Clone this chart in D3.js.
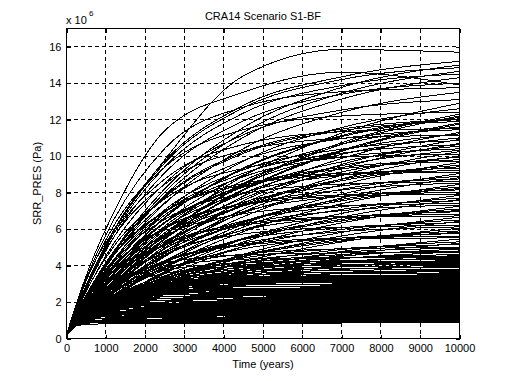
<!DOCTYPE html>
<html><head><meta charset="utf-8">
<script src="https://cdn.jsdelivr.net/npm/d3@7"></script>
<style>
html,body{margin:0;padding:0;background:#fff;}
text{font-family:"Liberation Sans",Arial,sans-serif;fill:#000;}
</style></head>
<body><svg id="c" width="508" height="381"></svg>
<script>
const title = "CRA14 Scenario S1-BF";
const xLabel = "Time (years)";
const yLabel = "SRR_PRES (Pa)";
const xTicks = [0,1000,2000,3000,4000,5000,6000,7000,8000,9000,10000];
const yTicks = [0,2,4,6,8,10,12,14,16];
const times = [0,250,600,1200,2500,4500,7000,10000];

const lowBand = [
[0.2,0.70,0.78,0.81,0.83,0.84,0.85,0.86],
[0.2,0.74,0.85,0.88,0.89,0.9,0.9,0.9],
[0.2,0.78,0.9,0.93,0.94,0.95,0.95,0.95],
[0.2,0.82,0.94,0.97,0.98,0.99,1.0,1.0],
[0.2,0.86,0.99,1.02,1.03,1.04,1.05,1.05],
[0.2,0.70,0.95,1.04,1.07,1.08,1.09,1.1],
[0.2,0.93,1.08,1.11,1.13,1.14,1.15,1.15],
[0.2,0.75,1.03,1.14,1.17,1.18,1.19,1.2],
[0.2,0.98,1.16,1.2,1.22,1.24,1.25,1.25],
[0.2,0.80,1.1,1.22,1.26,1.28,1.29,1.3],
[0.2,0.83,1.16,1.28,1.31,1.33,1.34,1.35],
[0.2,0.85,1.18,1.32,1.36,1.38,1.39,1.4],
[0.2,0.88,1.24,1.37,1.41,1.43,1.44,1.45],
[0.2,0.9,1.26,1.42,1.46,1.48,1.49,1.5],
[0.2,0.94,1.32,1.47,1.51,1.53,1.54,1.55],
[0.2,0.75,1.18,1.47,1.56,1.58,1.59,1.6],
[0.2,0.99,1.39,1.56,1.61,1.63,1.64,1.65],
[0.2,0.79,1.25,1.56,1.66,1.68,1.69,1.7],
[0.2,1.05,1.48,1.65,1.7,1.73,1.74,1.75],
[0.2,0.83,1.32,1.65,1.75,1.78,1.79,1.8],
[0.2,0.85,1.35,1.7,1.81,1.83,1.84,1.85],
[0.2,0.87,1.39,1.75,1.85,1.88,1.89,1.9],
[0.2,0.89,1.42,1.79,1.9,1.93,1.94,1.95],
[0.2,0.91,1.46,1.84,1.94,1.97,1.99,2.0],
[0.2,0.93,1.49,1.88,2.0,2.03,2.04,2.05],
[0.2,0.71,1.2,1.68,2.0,2.07,2.09,2.1],
[0.2,0.97,1.56,1.97,2.1,2.13,2.14,2.15],
[0.2,0.74,1.26,1.75,2.1,2.17,2.19,2.2],
[0.2,1.01,1.63,2.06,2.2,2.23,2.24,2.25],
[0.2,0.76,1.31,1.83,2.19,2.27,2.29,2.3],
[0.2,1.05,1.7,2.15,2.29,2.33,2.34,2.35],
[0.2,0.79,1.36,1.91,2.29,2.37,2.39,2.4],
[0.2,1.08,1.77,2.25,2.39,2.43,2.44,2.45],
[0.2,0.82,1.41,1.99,2.39,2.47,2.49,2.5],
[0.2,0.83,1.44,2.03,2.45,2.54,2.55,2.55],
[0.2,0.84,1.47,2.06,2.49,2.57,2.59,2.6],
[0.2,0.86,1.5,2.1,2.54,2.63,2.65,2.65],
[0.2,0.87,1.52,2.14,2.59,2.67,2.69,2.7],
[0.2,0.88,1.55,2.18,2.64,2.74,2.75,2.75],
[0.2,0.72,1.22,1.84,2.48,2.74,2.79,2.8],
[0.2,0.91,1.6,2.26,2.74,2.84,2.85,2.85],
[0.2,0.73,1.26,1.91,2.56,2.84,2.89,2.9],
[0.2,0.94,1.65,2.34,2.83,2.94,2.95,2.95],
[0.2,0.73,1.3,1.97,2.65,2.93,2.99,3.0],
[0.2,0.96,1.7,2.41,2.93,3.04,3.05,3.05],
[0.2,0.75,1.34,2.03,2.74,3.03,3.09,3.1],
[0.2,0.75,1.36,2.06,2.78,3.08,3.14,3.15],
[0.2,0.76,1.38,2.1,2.83,3.13,3.19,3.2],
[0.2,0.77,1.4,2.12,2.87,3.18,3.24,3.25],
[0.2,0.78,1.42,2.16,2.91,3.23,3.29,3.3],
[0.2,0.79,1.44,2.19,2.96,3.27,3.34,3.35],
[0.2,0.8,1.46,2.22,3.0,3.32,3.39,3.4],
[0.2,0.81,1.48,2.25,3.04,3.37,3.44,3.45],
[0.2,0.72,1.14,1.81,2.69,3.24,3.45,3.5],
[0.2,0.83,1.52,2.32,3.13,3.47,3.54,3.55],
[0.2,0.73,1.17,1.86,2.76,3.33,3.55,3.6],
[0.2,0.85,1.56,2.38,3.22,3.57,3.64,3.65],
[0.2,0.74,1.19,1.91,2.84,3.43,3.64,3.7],
[0.2,0.74,1.1,1.66,2.52,3.23,3.59,3.75],
[0.2,0.75,1.22,1.96,2.91,3.52,3.74,3.8],
[0.2,0.76,1.25,2.01,2.99,3.61,3.84,3.9],
[0.2,0.75,1.13,1.73,2.65,3.4,3.79,3.95],
[0.2,0.77,1.28,2.06,3.07,3.7,3.94,4.0],
[0.2,0.92,1.71,2.63,3.57,3.96,4.04,4.05],
[0.2,0.78,1.31,2.11,3.14,3.8,4.04,4.1],
[0.2,0.76,1.17,1.8,2.77,3.57,3.98,4.15],
[0.2,0.79,1.34,2.16,3.22,3.89,4.14,4.2],
[0.2,0.96,1.79,2.76,3.74,4.15,4.24,4.25],
[0.2,0.75,0.99,1.46,2.42,3.35,3.96,4.3],
[0.2,0.8,1.38,2.23,3.33,4.03,4.28,4.35],
[0.2,0.78,1.21,1.89,2.92,3.78,4.22,4.4],
[0.2,1.0,1.87,2.89,3.92,4.35,4.44,4.45],
[0.2,0.81,1.42,2.3,3.44,4.16,4.43,4.5],
[0.2,0.76,1.03,1.54,2.55,3.54,4.19,4.55],
[0.2,0.79,1.25,1.96,3.05,3.95,4.41,4.6],
[0.2,1.05,1.97,3.04,4.14,4.59,4.69,4.7],
[0.2,0.77,1.06,1.6,2.66,3.69,4.37,4.75],
[0.2,0.8,1.29,2.03,3.18,4.12,4.6,4.8],
[0.2,0.78,1.09,1.65,2.74,3.81,4.51,4.9]
];

const midBand = [
[0.2,0.8,1.23,2.04,3.26,4.24,4.74,4.95],
[0.2,0.83,1.56,2.55,3.82,4.63,4.92,5.0],
[0.2,0.8,1.27,2.12,3.39,4.41,4.93,5.15],
[0.2,0.76,0.98,1.43,2.48,3.64,4.57,5.22],
[0.2,0.78,1.1,1.77,2.96,4.12,4.88,5.3],
[0.2,0.76,1.0,1.49,2.58,3.8,4.77,5.45],
[0.2,0.9,1.71,2.8,4.21,5.11,5.43,5.52],
[0.2,0.91,1.73,2.84,4.27,5.18,5.51,5.6],
[0.2,0.82,1.4,2.35,3.77,4.92,5.51,5.75],
[0.2,0.8,1.14,1.93,3.24,4.52,5.35,5.82],
[0.2,0.8,1.16,1.96,3.28,4.58,5.43,5.9],
[0.2,0.77,1.02,1.64,2.86,4.21,5.3,6.05],
[0.2,0.82,1.48,2.5,4.01,5.23,5.86,6.12],
[0.2,0.99,1.9,3.13,4.72,5.73,6.1,6.2],
[0.2,0.84,1.53,2.59,4.16,5.43,6.08,6.35],
[0.2,0.78,1.04,1.73,3.02,4.47,5.62,6.42],
[0.2,0.82,1.26,2.14,3.61,5.04,5.98,6.5],
[0.2,0.78,1.06,1.79,3.13,4.62,5.82,6.65],
[0.2,1.05,2.05,3.39,5.12,6.21,6.62,6.72],
[0.2,1.06,2.07,3.43,5.18,6.29,6.69,6.8],
[0.2,0.86,1.66,2.82,4.55,5.94,6.65,6.95],
[0.2,0.83,1.35,2.3,3.89,5.44,6.45,7.02],
[0.2,0.83,1.36,2.33,3.93,5.5,6.53,7.1],
[0.2,0.79,1.12,1.93,3.4,5.04,6.34,7.25],
[0.2,0.89,1.75,2.96,4.79,6.25,7.01,7.32],
[0.2,1.14,2.24,3.72,5.63,6.84,7.28,7.4],
[0.2,0.91,1.79,3.05,4.93,6.45,7.23,7.55],
[0.2,0.8,1.17,2.03,3.57,5.29,6.66,7.62],
[0.2,0.84,1.46,2.51,4.26,5.96,7.08,7.7],
[0.2,0.8,1.2,2.08,3.67,5.45,6.86,7.85],
[0.2,1.21,2.39,3.98,6.02,7.32,7.8,7.92],
[0.2,1.22,2.42,4.01,6.08,7.39,7.88,8.0],
[0.2,0.97,1.93,3.28,5.32,6.96,7.8,8.15],
[0.2,0.86,1.55,2.67,4.54,6.36,7.55,8.22],
[0.2,0.86,1.56,2.69,4.58,6.42,7.63,8.3],
[0.2,0.82,1.28,2.23,3.95,5.86,7.39,8.45],
[0.2,1.01,2.01,3.43,5.56,7.27,8.15,8.52],
[0.2,1.3,2.59,4.31,6.53,7.94,8.47,8.6],
[0.2,1.03,2.06,3.52,5.71,7.47,8.37,8.75],
[0.2,0.83,1.33,2.32,4.11,6.11,7.71,8.82],
[0.2,0.87,1.66,2.88,4.91,6.88,8.18,8.9],
[0.2,0.83,1.36,2.38,4.22,6.27,7.91,9.05],
[0.2,1.37,2.73,4.56,6.93,8.42,8.98,9.12],
[0.2,1.38,2.76,4.6,6.99,8.5,9.06,9.2],
[0.2,1.09,2.19,3.75,6.09,7.98,8.95,9.35],
[0.2,0.88,1.75,3.04,5.19,7.28,8.65,9.42],
[0.2,0.88,1.76,3.06,5.23,7.34,8.73,9.5],
[0.2,0.84,1.44,2.52,4.49,6.68,8.43,9.65],
[0.2,1.12,2.27,3.89,6.33,8.29,9.3,9.72],
[0.2,1.13,2.28,3.92,6.38,8.36,9.38,9.8],
[0.2,0.9,1.84,3.2,5.47,7.69,9.14,9.95],
[0.2,0.85,1.49,2.62,4.66,6.94,8.75,10.02],
[0.2,1.5,3.01,5.04,7.66,9.33,9.94,10.1],
[0.2,0.85,1.52,2.67,4.76,7.09,8.95,10.25],
[0.2,0.94,1.9,3.32,5.67,7.97,9.48,10.32],
[0.2,1.19,2.41,4.16,6.77,8.87,9.95,10.4],
[0.2,0.96,1.94,3.39,5.8,8.15,9.69,10.55],
[0.2,1.21,2.46,4.24,6.91,9.06,10.16,10.62],
[0.2,0.86,1.58,2.78,4.97,7.4,9.35,10.7],
[0.2,1.23,2.51,4.33,7.06,9.25,10.38,10.85],
[0.2,0.86,1.6,2.84,5.07,7.55,9.54,10.92],
[0.2,0.99,2.01,3.53,6.04,8.49,10.1,11.0],
[0.2,1.63,3.31,5.55,8.46,10.3,10.98,11.15],
[0.2,1.0,2.05,3.59,6.16,8.66,10.3,11.22],
[0.2,0.87,1.65,2.93,5.24,7.81,9.87,11.3],
[0.2,1.29,2.64,4.57,7.45,9.76,10.96,11.45],
[0.2,1.65,3.41,5.74,8.74,10.64,11.34,11.52],
[0.2,1.03,2.12,3.71,6.37,8.96,10.65,11.6],
[0.2,0.88,1.71,3.04,5.44,8.12,10.26,11.75],
[0.2,0.88,1.72,3.06,5.48,8.17,10.32,11.82],
[0.2,1.33,2.74,4.74,7.73,10.15,11.39,11.9],
[0.2,1.34,2.76,4.78,7.8,10.23,11.48,12.0],
[0.2,1.06,2.19,3.85,6.61,9.3,11.07,12.05],
[0.2,1.07,2.2,3.87,6.65,9.35,11.13,12.12],
[0.2,0.88,1.77,3.15,5.65,8.43,10.65,12.2]
];

const topBand = [
[0.2,1.7,3.7,5.9,9.8,14.4,15.85,15.7],
[0.2,1.9,4.0,6.9,11.4,13.5,14.6,13.9],
[0.2,1.64,3.41,5.94,9.73,12.78,14.35,15.2],
[0.2,1.28,2.69,4.76,8.21,11.57,13.77,15.0],
[0.2,1.62,3.38,5.88,9.63,12.65,14.2,14.85],
[0.2,1.25,2.63,4.65,8.02,11.3,13.45,14.65],
[0.2,1.59,3.3,5.75,9.41,12.36,13.87,14.5],
[0.2,1.23,2.57,4.54,7.83,11.03,13.13,14.3],
[0.2,1.54,3.19,5.55,9.09,11.93,13.39,14.0],
[0.2,1.8,3.8,6.5,10.42,12.69,13.53,13.75],
[0.2,1.17,2.43,4.3,7.4,10.41,12.4,13.5],
[0.2,1.45,3.0,5.21,8.51,11.17,12.53,13.1],
[0.2,0.92,1.86,3.32,5.97,8.91,11.26,12.9],
[0.2,1.11,2.28,4.02,6.91,9.72,11.57,12.6],
[0.2,1.8,3.66,6.17,9.4,11.45,12.2,12.4],
[0.2,0.89,1.79,3.18,5.69,8.5,10.74,12.3]
];

const m = {l:66.5, r:459.5, t:28.5, b:338.5};
const svg = d3.select("#c");
const x = d3.scaleLinear().domain([0,10000]).range([m.l, m.r]);
const y = d3.scaleLinear().domain([0,17]).range([m.b, m.t]);

// grid
const grid = svg.append("g").attr("stroke","#000").attr("stroke-width",1)
  .attr("stroke-dasharray","4,3").attr("shape-rendering","crispEdges");
xTicks.slice(1,-1).forEach(v=>grid.append("line").attr("x1",x(v)).attr("x2",x(v)).attr("y1",m.t).attr("y2",m.b));
yTicks.slice(1).forEach(v=>grid.append("line").attr("x1",m.l).attr("x2",m.r).attr("y1",y(v)).attr("y2",y(v)));

// curves
const line = d3.line().x((d,i)=>x(times[i])).y(d=>y(d)).curve(d3.curveMonotoneX);
const all = lowBand.concat(midBand, topBand);
svg.append("g").attr("shape-rendering","crispEdges").selectAll("path").data(all).join("path")
  .attr("d", line).attr("fill","none").attr("stroke","#000").attr("stroke-width",1);

// axes
const fs = 11;
const ax = svg.append("g").attr("transform",`translate(0,${m.b})`)
  .call(d3.axisBottom(x).tickValues(xTicks).tickSize(-4).tickPadding(6).tickFormat(d3.format("d")));
const ay = svg.append("g").attr("transform",`translate(${m.l},0)`)
  .call(d3.axisLeft(y).tickValues(yTicks).tickSize(-4).tickPadding(5).tickFormat(d3.format("d")));
const at = svg.append("g").attr("transform",`translate(0,${m.t})`)
  .call(d3.axisTop(x).tickValues(xTicks).tickSize(-4).tickFormat(""));
const ar = svg.append("g").attr("transform",`translate(${m.r},0)`)
  .call(d3.axisRight(y).tickValues(yTicks).tickSize(-4).tickFormat(""));
[ax,ay,at,ar].forEach(g=>{
  g.select(".domain").remove();
  g.selectAll("line").attr("stroke","#000").attr("shape-rendering","crispEdges");
  g.selectAll("text").attr("font-size",fs).attr("font-family","Liberation Sans, Arial, sans-serif").attr("fill","#000");
});
svg.append("rect").attr("x",m.l).attr("y",m.t).attr("width",m.r-m.l).attr("height",m.b-m.t)
  .attr("fill","none").attr("stroke","#000").attr("shape-rendering","crispEdges");

// labels
svg.append("text").attr("x",(m.l+m.r)/2).attr("y",20).attr("text-anchor","middle").attr("font-size",fs).text(title);
svg.append("text").attr("x",(m.l+m.r)/2).attr("y",368).attr("text-anchor","middle").attr("font-size",fs).text(xLabel);
svg.append("text").attr("transform",`translate(41,${(m.t+m.b)/2}) rotate(-90)`).attr("text-anchor","middle").attr("font-size",fs).text(yLabel);
svg.append("text").attr("x",66).attr("y",24).attr("font-size",fs).text("x 10");
svg.append("text").attr("x",89).attr("y",16).attr("font-size",8).text("6");
</script></body></html>
